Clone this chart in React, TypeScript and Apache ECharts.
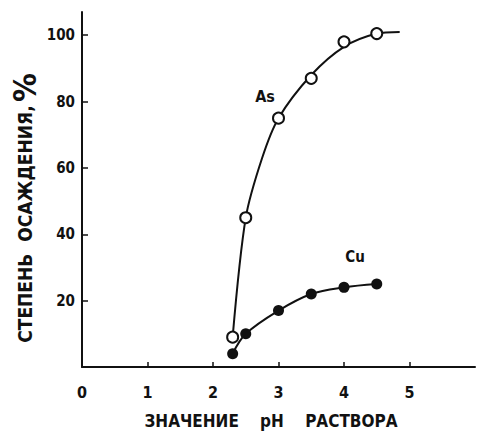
import React, { useEffect, useRef } from "react";
import * as echarts from "echarts";

// pH values and precipitation degree (%)
const asPH = [2.3, 2.5, 3.0, 3.5, 4.0, 4.5];
const asVal = [9, 45, 75, 87, 98, 100.5];
// points read along the drawn As curve
const asCurvePH = [2.3, 2.5, 2.75, 3.0, 3.5, 4.0, 4.5, 4.85];
const asCurveVal = [9, 45, 63, 75, 88, 96.5, 100.5, 101];

const cuPH = [2.3, 2.5, 3.0, 3.5, 4.0, 4.5];
const cuVal = [4, 10, 17, 22, 24, 25];

const xTicks = [0, 1, 2, 3, 4, 5];
const yTicks = [20, 40, 60, 80, 100];

const INK = "#111";

export default function App() {
  const ref = useRef<HTMLDivElement>(null);
  useEffect(() => {
    if (!ref.current) return;
    const chart = echarts.init(ref.current, null, { renderer: "svg" });
    const font = "DejaVu Sans Condensed, DejaVu Sans, sans-serif";
    chart.setOption({
      animation: false,
      backgroundColor: "#fff",
      grid: { left: 82, right: 3, top: 12, bottom: 67 },
      xAxis: {
        type: "value",
        min: 0,
        max: 6,
        interval: 1,
        splitLine: { show: false },
        axisLine: { show: true, onZero: false, lineStyle: { color: INK, width: 2 } },
        axisTick: { show: true, inside: true, length: 5, customValues: xTicks.slice(1), lineStyle: { color: INK, width: 1.5 } },
        axisLabel: {
          customValues: xTicks,
          color: INK,
          fontFamily: font,
          fontWeight: "bold",
          fontSize: 16,
          margin: 17,
        },
      },
      yAxis: {
        type: "value",
        min: 0,
        max: 107,
        interval: 20,
        splitLine: { show: false },
        axisLine: { show: true, lineStyle: { color: INK, width: 2 } },
        axisTick: { show: true, inside: true, length: 6, customValues: yTicks, lineStyle: { color: INK, width: 1.5 } },
        axisLabel: {
          customValues: yTicks,
          color: INK,
          fontFamily: font,
          fontWeight: "bold",
          fontSize: 15,
          margin: 7,
        },
      },
      series: [
        {
          type: "line",
          data: asCurvePH.map((x, i) => [x, asCurveVal[i]]),
          smooth: 0.3,
          showSymbol: false,
          symbol: "none",
          lineStyle: { color: INK, width: 2 },
          z: 2,
        },
        {
          type: "scatter",
          data: asPH.map((x, i) => [x, asVal[i]]),
          symbol: "circle",
          symbolSize: 11,
          itemStyle: { color: "#fff", borderColor: INK, borderWidth: 2, opacity: 1 },
          z: 3,
        },
        {
          type: "line",
          data: cuPH.map((x, i) => [x, cuVal[i]]),
          smooth: 0.35,
          symbol: "circle",
          symbolSize: 11,
          showSymbol: true,
          itemStyle: { color: INK, borderColor: INK, borderWidth: 0, opacity: 1 },
          lineStyle: { color: INK, width: 2 },
          z: 3,
        },
      ],
      graphic: [
        {
          type: "text",
          x: 265,
          y: 96,
          style: { text: "As", font: `bold 16px ${font}`, fill: INK, align: "center", verticalAlign: "middle" },
        },
        {
          type: "text",
          x: 355,
          y: 257,
          style: { text: "Cu", font: `bold 15px ${font}`, fill: INK, align: "center", verticalAlign: "middle" },
        },
        {
          type: "text",
          x: 25,
          y: 208,
          rotation: Math.PI / 2,
          style: {
            text: "{a|СТЕПЕНЬ  ОСАЖДЕНИЯ,} {b|%}",
            fill: INK,
            align: "center",
            verticalAlign: "middle",
            rich: {
              a: { fontFamily: font, fontWeight: "bold", fontSize: 19, fill: INK },
              b: { fontFamily: font, fontWeight: "bold", fontSize: 32, fill: INK },
            },
          },
        },
        {
          type: "text",
          x: 271,
          y: 421,
          style: {
            text: "ЗНАЧЕНИЕ    pH    РАСТВОРА",
            font: `bold 17px ${font}`,
            fill: INK,
            align: "center",
            verticalAlign: "middle",
          },
        },
      ],
    });
    return () => chart.dispose();
  }, []);
  return (
    <div
      ref={ref}
      style={{ position: "absolute", left: 0, top: 0, width: 478, height: 434, background: "#fff" }}
    />
  );
}
